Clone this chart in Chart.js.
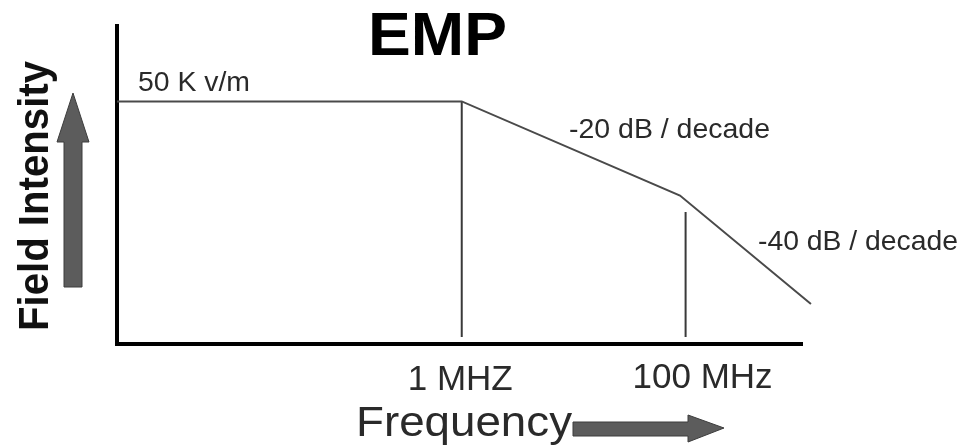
<!DOCTYPE html>
<html>
<head>
<meta charset="utf-8">
<script src="https://cdn.jsdelivr.net/npm/chart.js@4.4.0/dist/chart.umd.min.js"></script>
<style>
  html, body { margin: 0; padding: 0; background: #fff; }
  #wrap { width: 964px; height: 448px; position: relative; }
</style>
</head>
<body>
<div id="wrap"><canvas id="empChart"></canvas></div>
<script>
// x = log10(frequency in MHz), y = field level in dB relative to 50 K v/m
var curveX = [-3.08, 0, 1.95, 3.12];
var curveDb = [0, 0, -40, -86];
// vertical marker lines (1 MHz and 100 MHz)
var markerX = [0, 2];
var markerTop = [0, -47];
var markerBottom = -100;
var tickLabels = ["1 MHZ", "100 MHz"];
var slopeLabels = ["-20 dB / decade", "-40 dB / decade"];
var levelLabel = "50 K v/m";

var FONT = "'Liberation Sans', Arial, sans-serif";

function pts(xs, ys) {
    return xs.map(function (x, i) { return { x: x, y: ys[i] }; });
}

var datasets = [{
    label: "EMP",
    data: pts(curveX, curveDb),
    borderColor: "#4a4a4a",
    borderWidth: 2,
    pointRadius: 0,
    tension: 0,
    clip: false
}];
markerX.forEach(function (mx, i) {
    datasets.push({
        label: tickLabels[i],
        data: [{ x: mx, y: markerTop[i] }, { x: mx, y: markerBottom }],
        borderColor: "#3a3a3a",
        borderWidth: 2,
        pointRadius: 0,
        clip: false
    });
});

function txt(ctx, s, x, y, size, opts) {
    opts = opts || {};
    ctx.save();
    ctx.font = (opts.bold ? "bold " : "") + size + "px " + FONT;
    ctx.fillStyle = opts.color || "#2a2a2a";
    ctx.textBaseline = "alphabetic";
    ctx.textAlign = "left";
    var w = ctx.measureText(s).width;
    ctx.translate(x, y);
    if (opts.rotate) ctx.rotate(opts.rotate);
    if (opts.width) ctx.scale(opts.width / w, 1);
    ctx.fillText(s, 0, 0);
    ctx.restore();
}

var decorations = {
    id: "decorations",
    afterDraw: function (chart) {
        var ctx = chart.ctx;
        var xs = chart.scales.x;

        txt(ctx, "EMP", 368, 55, 62, { bold: true, color: "#000", width: 139 });
        txt(ctx, levelLabel, 138, 91, 27, { width: 112 });
        txt(ctx, slopeLabels[0], 569, 138, 28, { width: 201 });
        txt(ctx, slopeLabels[1], 758, 250, 28, { width: 200 });

        // tick labels under marker lines
        var p0 = xs.getPixelForValue(markerX[0]);
        var p1 = xs.getPixelForValue(markerX[1]);
        txt(ctx, tickLabels[0], p0 - 54, 390, 35, { width: 105 });
        txt(ctx, tickLabels[1], p1 - 53, 388, 35, { width: 140 });

        // axis titles
        txt(ctx, "Frequency", 356, 436, 42, { width: 216 });
        txt(ctx, "Field Intensity", 48, 331, 42, { bold: true, rotate: -Math.PI / 2, color: "#111", width: 270 });

        // arrows
        ctx.save();
        ctx.fillStyle = "#5c5c5c";
        ctx.strokeStyle = "#3c3c3c";
        ctx.lineWidth = 1;
        // up arrow
        ctx.beginPath();
        ctx.moveTo(64, 287);
        ctx.lineTo(64, 142);
        ctx.lineTo(57, 142);
        ctx.lineTo(73, 93);
        ctx.lineTo(89, 142);
        ctx.lineTo(82, 142);
        ctx.lineTo(82, 287);
        ctx.closePath();
        ctx.fill();
        ctx.stroke();
        // right arrow
        ctx.beginPath();
        ctx.moveTo(573, 422);
        ctx.lineTo(688, 422);
        ctx.lineTo(688, 415);
        ctx.lineTo(724, 428);
        ctx.lineTo(688, 442);
        ctx.lineTo(688, 436);
        ctx.lineTo(573, 436);
        ctx.closePath();
        ctx.fill();
        ctx.stroke();
        ctx.restore();
    }
};

new Chart(document.getElementById("empChart"), {
    type: "line",
    data: { datasets: datasets },
    plugins: [decorations],
    options: {
        responsive: true,
        maintainAspectRatio: false,
        animation: false,
        layout: { padding: { left: 109, right: 162, top: 26, bottom: 96 } },
        plugins: { legend: { display: false }, tooltip: { enabled: false } },
        scales: {
            x: {
                type: "linear",
                min: -3.08,
                max: 3.04,
                grid: { display: false },
                ticks: { display: false },
                border: { display: true, color: "#000", width: 4 }
            },
            y: {
                type: "linear",
                min: -103,
                max: 32,
                grid: { display: false },
                ticks: { display: false },
                border: { display: true, color: "#000", width: 4 }
            }
        }
    }
});
</script>
</body>
</html>
